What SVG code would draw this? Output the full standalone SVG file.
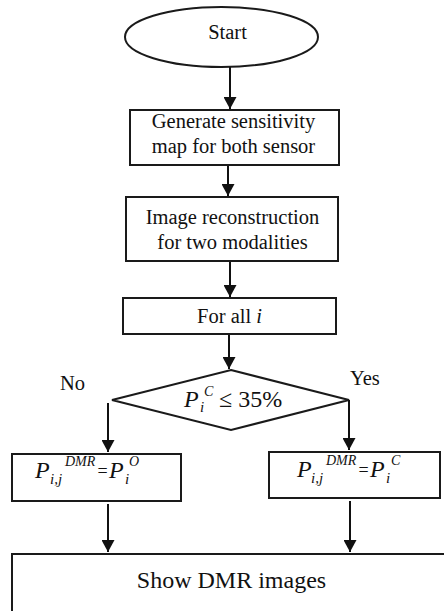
<svg xmlns="http://www.w3.org/2000/svg" width="444" height="611" viewBox="0 0 444 611">
<style>
.shape{fill:#fff;stroke:#1a1a1a;stroke-width:2}
.t{font-family:"Liberation Serif","Times New Roman",serif;font-size:20.5px;fill:#111}
.c{text-anchor:middle}
.m{font-family:"Liberation Serif","Times New Roman",serif;font-style:italic;fill:#111}
.big{font-size:24px}
.sub{font-size:15px}
.sup{font-size:14px}
.eq{font-family:"Liberation Serif","Times New Roman",serif;font-size:18px;fill:#111}
.conn line{stroke:#111;stroke-width:2;marker-end:url(#ah)}
</style>
<defs>
<marker id="ah" markerUnits="userSpaceOnUse" markerWidth="13" markerHeight="13" refX="12" refY="6.5" orient="auto">
<path d="M0,0 L12,6.5 L0,13 z" fill="#111"/>
</marker>
</defs>
<rect width="444" height="611" fill="#fff"/>
<g id="start">
<ellipse class="shape" cx="221.5" cy="37" rx="96.5" ry="30"/>
<text class="t c" x="227.5" y="39">Start</text>
</g>
<g id="sensitivity">
<rect class="shape" x="130" y="110" width="209" height="55"/>
<text class="t c" x="233.5" y="128">Generate sensitivity</text>
<text class="t c" x="233.5" y="153">map for both sensor</text>
</g>
<g id="reconstruction">
<rect class="shape" x="126" y="197" width="212" height="64"/>
<text class="t c" x="232.5" y="224">Image reconstruction</text>
<text class="t c" x="232.5" y="249">for two modalities</text>
</g>
<g id="forall">
<rect class="shape" x="123" y="298" width="213" height="36"/>
<text class="t c" x="229.5" y="323">For all <tspan font-style="italic">i</tspan></text>
</g>
<g id="decision">
<polygon class="shape" points="231,370 349,400 231,430 112,400"/>
<text class="m big" x="184" y="407">P</text>
<text class="m sub" x="200" y="412">i</text>
<text class="m sup" x="204" y="396">C</text>
<text class="t big" x="219" y="407">≤ 35%</text>
</g>
<g id="label-no"><text class="t" x="60" y="390">No</text></g>
<g id="label-yes"><text class="t" x="350" y="385">Yes</text></g>
<g id="assign-o">
<rect class="shape" x="12" y="454" width="169" height="47"/>
<text class="m big" x="35" y="478">P</text>
<text class="m sub" x="50" y="484">i,j</text>
<text class="m sup" x="65" y="466">DMR</text>
<text class="eq" x="97.5" y="477">=</text>
<text class="m big" x="109" y="478">P</text>
<text class="m sub" x="125" y="484">i</text>
<text class="m sup" x="129" y="466">O</text>
</g>
<g id="assign-c">
<rect class="shape" x="269" y="452" width="171" height="46"/>
<text class="m big" x="297" y="477">P</text>
<text class="m sub" x="311" y="483">i,j</text>
<text class="m sup" x="326" y="465">DMR</text>
<text class="eq" x="358.5" y="476">=</text>
<text class="m big" x="370" y="477">P</text>
<text class="m sub" x="386" y="483">i</text>
<text class="m sup" x="391" y="465">C</text>
</g>
<g id="show">
<rect class="shape" x="12" y="554" width="440" height="80"/>
<text class="t c big" x="231.5" y="588">Show DMR images</text>
</g>
<g class="conn" id="connectors">
<line x1="230" y1="67" x2="230" y2="109"/>
<line x1="228" y1="166" x2="228" y2="196"/>
<line x1="230" y1="262" x2="230" y2="297"/>
<line x1="229" y1="335" x2="229" y2="369"/>
<line x1="108" y1="403" x2="108" y2="452"/>
<line x1="349" y1="400" x2="349" y2="450"/>
<line x1="108" y1="504" x2="108" y2="552"/>
<line x1="350" y1="501" x2="350" y2="552"/>
</g>
</svg>
